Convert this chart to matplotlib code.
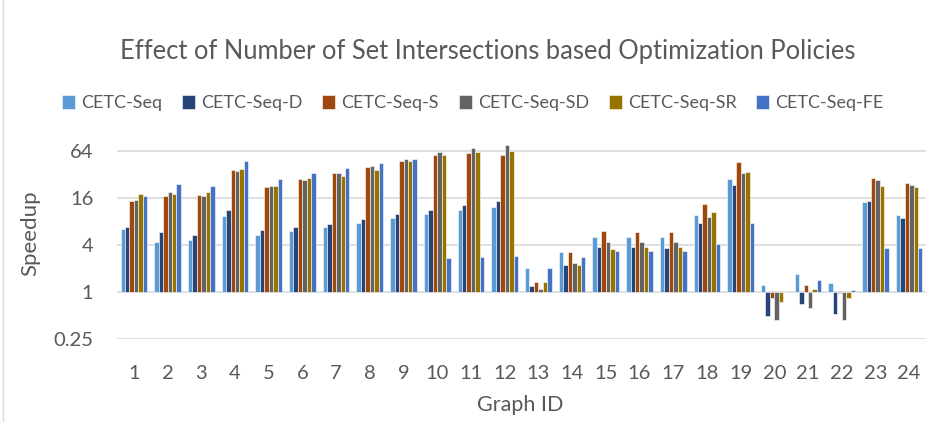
import matplotlib
matplotlib.use("Agg")
import matplotlib.pyplot as plt
import numpy as np

graphs = [str(i) for i in range(1, 25)]
series_names = ["CETC-Seq", "CETC-Seq-D", "CETC-Seq-S", "CETC-Seq-SD", "CETC-Seq-SR", "CETC-Seq-FE"]
colors = ["#5B9BD5", "#264478", "#9E480E", "#636363", "#997300", "#4472C4"]

seq = [6.3, 4.3, 4.6, 9.3, 5.3, 6.0, 6.7, 7.6, 8.8, 9.9, 11.0, 12.2,
       2.0, 3.2, 5.0, 5.0, 5.0, 9.7, 27.8, 1.23, 1.69, 1.28, 14.2, 9.5]
seq_d = [6.7, 5.8, 5.4, 11.1, 6.2, 6.7, 7.4, 8.5, 9.9, 11.1, 12.8, 14.6,
         1.2, 2.18, 3.73, 3.73, 3.66, 7.5, 23.5, 0.49, 0.70, 0.52, 14.6, 8.7]
seq_s = [14.5, 16.8, 17.2, 36.0, 21.7, 27.5, 33.0, 39.0, 47.0, 56.0, 59.0, 56.5,
         1.33, 3.2, 5.94, 5.77, 5.77, 13.4, 45.9, 0.82, 1.23, 0.95, 28.6, 24.5]
seq_sd = [14.8, 18.9, 16.7, 35.0, 22.4, 26.7, 33.0, 40.4, 50.6, 61.0, 70.0, 75.7,
          1.08, 2.33, 4.33, 4.33, 4.3, 9.0, 32.9, 0.44, 0.61, 0.43, 26.7, 23.3]
seq_sr = [17.8, 17.7, 18.8, 37.0, 22.4, 28.4, 30.0, 36.0, 47.0, 56.5, 62.0, 64.0,
          1.33, 2.22, 3.49, 3.73, 3.73, 10.4, 34.0, 0.73, 1.09, 0.83, 22.8, 21.7]
seq_fe = [16.8, 24.0, 22.6, 47.0, 28.0, 32.9, 38.0, 44.0, 50.6, 2.7, 2.8, 2.87,
          2.0, 2.76, 3.32, 3.32, 3.32, 4.08, 7.5, 0.99, 1.4, 1.04, 3.66, 3.63]
all_series = [seq, seq_d, seq_s, seq_sd, seq_sr, seq_fe]

ytick_vals = [0.25, 1, 4, 16, 64]
ytick_labels = ["0.25", "1", "4", "16", "64"]

FONT = ["Lato", "DejaVu Sans"]
plt.rcParams["font.family"] = FONT
TXT = "#595959"

W, H = 936, 422
fig = plt.figure(figsize=(W / 100, H / 100), dpi=100)
ax = fig.add_axes([117 / W, (H - 338.7) / H, (926 - 117) / W, (338.7 - 127.2) / H])

x = np.arange(1, 25)
bw = 0.132
for i, (name, vals, c) in enumerate(zip(series_names, all_series, colors)):
    v = np.array(vals)
    ax.bar(x + (i - 2.5) * bw, v - 1, bottom=1, width=bw, color=c,
           edgecolor="white", linewidth=0.4, label=name, zorder=3)

ax.set_yscale("log", base=2)
ax.set_ylim(0.25, 128)
ax.set_xlim(0.5, 24.5)
ax.set_yticks(ytick_vals)
ax.set_yticklabels(ytick_labels)
ax.minorticks_off()
ax.set_xticks(x)
ax.set_xticklabels(graphs)
ax.grid(axis="y", color="#D9D9D9", linewidth=1.2, zorder=0)
for s in ax.spines.values():
    s.set_visible(False)
ax.tick_params(length=0, labelsize=14.5, colors=TXT)
ax.tick_params(axis="x", pad=19)
ax.tick_params(axis="y", pad=17)

fig.text(30 / W, 1 - 233.5 / H, "Speedup", rotation=90, ha="center", va="center",
         fontsize=16, color=TXT)
fig.text(520 / W, 1 - 405 / H, "Graph ID", ha="center", va="center",
         fontsize=15.5, color=TXT)

fig.text(488 / W, 1 - 52 / H, "Effect of Number of Set Intersections based Optimization Policies",
         ha="center", va="center", fontsize=18.4, color=TXT)

leg = fig.legend(*ax.get_legend_handles_labels(), loc="center", bbox_to_anchor=(473 / W, 1 - 103 / H),
                 ncol=6, frameon=False, fontsize=13, handlelength=0.72, handleheight=0.78,
                 handletextpad=0.33, columnspacing=1.1, labelcolor=TXT)

fig.add_artist(plt.Line2D([3 / W, 3 / W], [0, 1], color="#D9D9D9", linewidth=1))

fig.savefig("out.png", dpi=100)
